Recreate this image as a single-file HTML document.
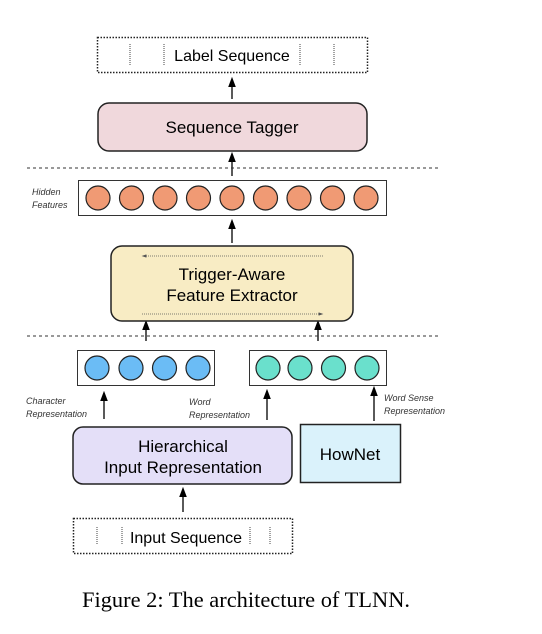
<!DOCTYPE html>
<html><head><style>body{margin:0;background:#fff}</style></head><body>
<svg width="542" height="629" xmlns="http://www.w3.org/2000/svg" font-family="Liberation Sans, sans-serif">
<defs><marker id="a" markerWidth="8" markerHeight="8" refX="4" refY="4" orient="auto"><path d="M0,1 L8,4 L0,7 z" fill="#000"/></marker>
<marker id="s" markerWidth="6" markerHeight="6" refX="3" refY="3" orient="auto"><path d="M0,1 L6,3 L0,5 z" fill="#555"/></marker></defs>
<rect x="97.5" y="37.5" width="270" height="35" fill="none" stroke="#222" stroke-width="1.5" stroke-dasharray="1.5,1.5"/>
<g stroke="#444" stroke-dasharray="1,1"><line x1="130" y1="44" x2="130" y2="66"/><line x1="164" y1="44" x2="164" y2="66"/><line x1="300" y1="44" x2="300" y2="66"/><line x1="334" y1="44" x2="334" y2="66"/></g>
<text x="232" y="61" font-size="16" text-anchor="middle">Label Sequence</text>
<g stroke="#000" stroke-width="1.3" marker-end="url(#a)"><line x1="232" y1="99" x2="232" y2="82"/><line x1="232" y1="176" x2="232" y2="157"/><line x1="232" y1="243" x2="232" y2="224"/><line x1="146" y1="341" x2="146" y2="325"/><line x1="318" y1="341" x2="318" y2="325"/><line x1="104" y1="419" x2="104" y2="396"/><line x1="267" y1="420" x2="267" y2="394"/><line x1="374" y1="421" x2="374" y2="391"/><line x1="183" y1="512" x2="183" y2="492"/></g>
<rect x="98" y="103" width="269" height="48" rx="11" fill="#f0d8dc" stroke="#222" stroke-width="1.5"/>
<text x="232" y="133" font-size="17" text-anchor="middle">Sequence Tagger</text>
<g stroke="#333" stroke-dasharray="3,3"><line x1="27" y1="168" x2="438" y2="168"/><line x1="27" y1="336" x2="438" y2="336"/></g>
<rect x="78.5" y="180.5" width="308" height="35" fill="#fff" stroke="#333"/>
<g fill="#f09a74" stroke="#222" stroke-width="1.2"><circle cx="98" cy="198" r="12"/><circle cx="131.5" cy="198" r="12"/><circle cx="165" cy="198" r="12"/><circle cx="198.5" cy="198" r="12"/><circle cx="232" cy="198" r="12"/><circle cx="265.5" cy="198" r="12"/><circle cx="299" cy="198" r="12"/><circle cx="332.5" cy="198" r="12"/><circle cx="366" cy="198" r="12"/></g>
<g font-size="9" font-style="italic" fill="#333"><text x="32" y="195">Hidden</text><text x="32" y="208">Features</text>
<text x="26" y="404">Character</text><text x="26" y="417">Representation</text>
<text x="189" y="405">Word</text><text x="189" y="418">Representation</text>
<text x="384" y="401">Word Sense</text><text x="384" y="414">Representation</text></g>
<rect x="111" y="246" width="242" height="75" rx="11" fill="#f8ecc4" stroke="#222" stroke-width="1.5"/>
<g stroke="#555" stroke-width="0.8" stroke-dasharray="1,1"><line x1="323" y1="256" x2="144" y2="256" marker-end="url(#s)"/><line x1="142" y1="314" x2="321" y2="314" marker-end="url(#s)"/></g>
<text x="232" y="280" font-size="17" text-anchor="middle">Trigger-Aware</text>
<text x="232" y="301" font-size="17" text-anchor="middle">Feature Extractor</text>
<rect x="77.5" y="350.5" width="137" height="35" fill="#fff" stroke="#333"/>
<g fill="#6bbcf5" stroke="#222" stroke-width="1.2"><circle cx="97" cy="368" r="12"/><circle cx="131" cy="368" r="12"/><circle cx="164.5" cy="368" r="12"/><circle cx="198" cy="368" r="12"/></g>
<rect x="249.5" y="350.5" width="137" height="35" fill="#fff" stroke="#333"/>
<g fill="#6ae0cc" stroke="#222" stroke-width="1.2"><circle cx="268" cy="368" r="12"/><circle cx="300" cy="368" r="12"/><circle cx="333.5" cy="368" r="12"/><circle cx="367" cy="368" r="12"/></g>
<rect x="73" y="427" width="219" height="57" rx="10" fill="#e4dff8" stroke="#222" stroke-width="1.5"/>
<text x="183" y="452" font-size="17" text-anchor="middle">Hierarchical</text>
<text x="183" y="473" font-size="17" text-anchor="middle">Input Representation</text>
<rect x="300.5" y="424.5" width="100" height="58" fill="#daf2fb" stroke="#222" stroke-width="1.5"/>
<text x="350" y="460" font-size="17" text-anchor="middle">HowNet</text>
<rect x="73.5" y="518.5" width="219" height="35" fill="none" stroke="#222" stroke-width="1.5" stroke-dasharray="1.5,1.5"/>
<g stroke="#444" stroke-dasharray="1,1"><line x1="97" y1="527" x2="97" y2="545"/><line x1="122" y1="527" x2="122" y2="545"/><line x1="250" y1="527" x2="250" y2="545"/><line x1="270" y1="527" x2="270" y2="545"/></g>
<text x="186" y="543" font-size="16" text-anchor="middle">Input Sequence</text>
<text x="82" y="607" font-size="22" font-family="Liberation Serif, serif" textLength="328" lengthAdjust="spacingAndGlyphs">Figure 2: The architecture of TLNN.</text>
</svg>
</body></html>
